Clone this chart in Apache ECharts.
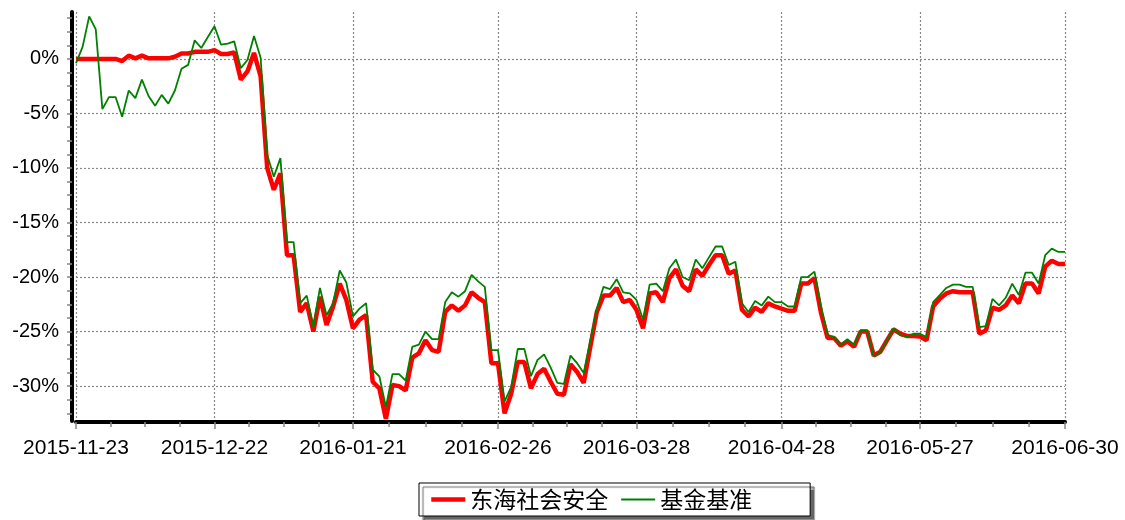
<!DOCTYPE html>
<html>
<head>
<meta charset="utf-8">
<script src="https://cdn.jsdelivr.net/npm/echarts@6/dist/echarts.min.js"></script>
<style>
html,body{margin:0;padding:0;background:#fff;}
#chart{width:1125px;height:520px;}
</style>
</head>
<body>
<div id="chart"></div>
<script>
const dates = [
'2015-11-23','2015-11-24','2015-11-25','2015-11-26','2015-11-27','2015-11-30',
'2015-12-01','2015-12-02','2015-12-03','2015-12-04',
'2015-12-07','2015-12-08','2015-12-09','2015-12-10','2015-12-11',
'2015-12-14','2015-12-15','2015-12-16','2015-12-17','2015-12-18',
'2015-12-21','2015-12-22','2015-12-23','2015-12-24','2015-12-25',
'2015-12-28','2015-12-29','2015-12-30','2015-12-31',
'2016-01-04','2016-01-05','2016-01-06','2016-01-07','2016-01-08',
'2016-01-11','2016-01-12','2016-01-13','2016-01-14','2016-01-15',
'2016-01-18','2016-01-19','2016-01-20','2016-01-21','2016-01-22',
'2016-01-25','2016-01-26','2016-01-27','2016-01-28','2016-01-29',
'2016-02-01','2016-02-02','2016-02-03','2016-02-04','2016-02-05','2016-02-06',
'2016-02-15','2016-02-16','2016-02-17','2016-02-18','2016-02-19',
'2016-02-22','2016-02-23','2016-02-24','2016-02-25','2016-02-26',
'2016-02-29','2016-03-01','2016-03-02','2016-03-03','2016-03-04',
'2016-03-07','2016-03-08','2016-03-09','2016-03-10','2016-03-11',
'2016-03-14','2016-03-15','2016-03-16','2016-03-17','2016-03-18',
'2016-03-21','2016-03-22','2016-03-23','2016-03-24','2016-03-25',
'2016-03-28','2016-03-29','2016-03-30','2016-03-31','2016-04-01',
'2016-04-05','2016-04-06','2016-04-07','2016-04-08',
'2016-04-11','2016-04-12','2016-04-13','2016-04-14','2016-04-15',
'2016-04-18','2016-04-19','2016-04-20','2016-04-21','2016-04-22',
'2016-04-25','2016-04-26','2016-04-27','2016-04-28','2016-04-29','2016-04-30',
'2016-05-03','2016-05-04','2016-05-05','2016-05-06',
'2016-05-09','2016-05-10','2016-05-11','2016-05-12','2016-05-13',
'2016-05-16','2016-05-17','2016-05-18','2016-05-19','2016-05-20',
'2016-05-23','2016-05-24','2016-05-25','2016-05-26','2016-05-27',
'2016-05-30','2016-05-31','2016-06-01','2016-06-02','2016-06-03',
'2016-06-06','2016-06-07','2016-06-08',
'2016-06-13','2016-06-14','2016-06-15','2016-06-16','2016-06-17',
'2016-06-20','2016-06-21','2016-06-22','2016-06-23','2016-06-24',
'2016-06-27','2016-06-28','2016-06-29','2016-06-30'
];

const fundName = '东海社会安全';
const benchName = '基金基准';

const fundValues = [
0,0,0,0,0,0,0,-0.2,0.3,0.05,
0.3,0.05,0.05,0.05,0.05,0.2,0.5,0.5,0.65,0.65,
0.65,0.8,0.45,0.45,0.6,-1.9,-1.15,0.55,-1.6,-10.0,
-12.0,-10.5,-18.0,-18.0,-23.2,-22.4,-25.0,-21.8,-24.4,-22.7,
-20.6,-22.1,-24.7,-23.9,-23.5,-29.6,-30.2,-33.0,-29.9,-30.0,
-30.4,-27.4,-27.0,-25.8,-26.7,-26.85,-23.2,-22.6,-23.1,-22.6,
-21.4,-21.9,-22.3,-27.9,-27.9,-32.5,-30.7,-27.8,-27.8,-30.2,
-28.9,-28.4,-29.6,-30.7,-30.8,-28.0,-28.7,-29.7,-26.4,-23.2,
-21.7,-21.7,-21.0,-22.3,-22.1,-23.0,-24.7,-21.5,-21.4,-22.3,
-20.1,-19.3,-20.8,-21.3,-19.3,-19.9,-18.9,-18.0,-18.0,-19.7,
-19.4,-23.0,-23.6,-22.8,-23.2,-22.4,-22.7,-22.9,-23.1,-23.1,
-20.6,-20.6,-20.1,-23.3,-25.6,-25.6,-26.3,-25.9,-26.4,-25.0,
-25.0,-27.2,-26.85,-25.8,-24.8,-25.2,-25.4,-25.4,-25.45,-25.8,
-22.7,-22.0,-21.5,-21.3,-21.4,-21.4,-21.4,-25.2,-24.9,-22.8,
-23.0,-22.6,-21.7,-22.4,-20.6,-20.6,-21.5,-19.05,-18.5,-18.8,
-18.8
];

const benchValues = [
-0.4,1.1,3.9,2.7,-4.6,-3.5,-3.5,-5.3,-2.9,-3.6,
-1.9,-3.4,-4.3,-3.3,-4.1,-2.9,-0.9,-0.55,1.7,1.0,
2.0,3.0,1.3,1.4,1.6,-0.85,-0.1,2.1,0.1,-8.8,
-10.8,-9.1,-16.8,-16.8,-22.4,-21.7,-24.6,-21.0,-23.5,-22.4,
-19.4,-20.5,-23.6,-22.9,-22.4,-28.5,-29.1,-31.9,-28.9,-28.9,
-29.5,-26.4,-26.2,-25.0,-25.7,-25.7,-22.3,-21.4,-21.8,-21.3,
-19.8,-20.4,-20.9,-26.7,-26.7,-31.4,-30.1,-26.6,-26.6,-29.1,
-27.6,-27.1,-28.3,-29.7,-29.8,-27.2,-27.9,-28.8,-25.85,-22.9,
-20.9,-21.1,-20.2,-21.4,-21.5,-22.1,-23.9,-20.7,-20.6,-21.3,
-19.2,-18.4,-20.0,-20.3,-18.4,-19.2,-18.2,-17.2,-17.2,-18.9,
-18.6,-22.4,-23.2,-22.2,-22.6,-21.8,-22.3,-22.3,-22.7,-22.7,
-20.0,-20.0,-19.5,-22.7,-25.3,-25.5,-26.2,-25.7,-26.2,-24.9,
-24.9,-27.3,-26.85,-25.8,-24.7,-25.3,-25.5,-25.2,-25.2,-25.5,
-22.3,-21.65,-21.0,-20.7,-20.7,-20.9,-20.9,-24.6,-24.5,-22.0,
-22.6,-21.9,-20.6,-21.65,-19.6,-19.6,-20.6,-18.0,-17.4,-17.7,
-17.7
];

const xTickLabels = ['2015-11-23','2015-12-22','2016-01-21','2016-02-26','2016-03-28','2016-04-28','2016-05-27','2016-06-30'];
const yTickValues = [-30,-25,-20,-15,-10,-5,0];

const Y_MIN = -33.2, Y_MAX = 4.3;

const xTickIdx = xTickLabels.map(d => dates.indexOf(d));
const xMinorIdx = [];
for (let k = 0; k < xTickIdx.length - 1; k++) {
  const a = xTickIdx[k], b = xTickIdx[k + 1];
  for (let q = 1; q < 4; q++) xMinorIdx.push(a + (b - a) * q / 4);
}
const yMinor = [];
for (let v = -32.5; v <= Y_MAX; v += 1.25) yMinor.push(Math.round(v * 100) / 100);

const fundData = fundValues.map((v, i) => [i, v]);
const benchData = benchValues.map((v, i) => [i, v]);

const gridLine = { show: true, lineStyle: { type: [2, 2], color: '#888', width: 1.2 } };
const tickStyle = { color: '#888', width: 1.5 };
const fontLatin = "'Liberation Sans', Arial, sans-serif";

const chart = echarts.init(document.getElementById('chart'), null, { renderer: 'canvas' });
chart.setOption({
  animation: false,
  backgroundColor: '#fff',
  grid: { left: 76, right: 60, top: 12, bottom: 99, containLabel: false },
  xAxis: [{
    type: 'value', min: 0, max: dates.length - 1, position: 'bottom', offset: 1,
    axisLine: { show: true, onZero: false, lineStyle: { color: '#000', width: 4 } },
    axisTick: { show: true, customValues: xTickIdx, length: 7, lineStyle: tickStyle },
    axisLabel: { customValues: xTickIdx, formatter: v => dates[v], fontSize: 21, color: '#000', margin: 16, fontFamily: fontLatin },
    splitLine: gridLine
  }, {
    type: 'value', min: 0, max: dates.length - 1, position: 'bottom', offset: 1,
    axisLine: { show: false, onZero: false },
    axisTick: { show: true, customValues: xMinorIdx, length: 5, lineStyle: tickStyle },
    axisLabel: { show: false },
    splitLine: { show: false }
  }],
  yAxis: [{
    type: 'value', min: Y_MIN, max: Y_MAX, position: 'left', offset: 4,
    axisLine: { show: true, onZero: false, lineStyle: { color: '#000', width: 4 } },
    axisTick: { show: true, customValues: yTickValues, length: 5, lineStyle: tickStyle },
    axisLabel: { customValues: yTickValues, formatter: v => v + '%', fontSize: 20, color: '#000', margin: 13, fontFamily: fontLatin },
    splitLine: gridLine
  }, {
    type: 'value', min: Y_MIN, max: Y_MAX, position: 'left', offset: 4,
    axisLine: { show: false, onZero: false },
    axisTick: { show: true, customValues: yMinor, length: 5, lineStyle: tickStyle },
    axisLabel: { show: false },
    splitLine: { show: false }
  }],
  legend: {
    data: [
      { name: fundName, lineStyle: { width: 4.5, color: '#ff0000' } },
      { name: benchName, lineStyle: { width: 1.8, color: '#008000' } }
    ],
    left: 419, top: 483,
    orient: 'horizontal',
    padding: [5, 58, 5, 10],
    itemWidth: 34, itemHeight: 14, itemGap: 12,
    borderColor: '#000', borderWidth: 1, backgroundColor: '#fff',
    shadowColor: '#666', shadowBlur: 1, shadowOffsetX: 4, shadowOffsetY: 4,
    itemStyle: { opacity: 0 },
    textStyle: { fontSize: 23, color: '#000', fontFamily: "'Noto Sans CJK SC', sans-serif" }
  },
  series: [{
    name: fundName, type: 'line', data: fundData, xAxisIndex: 0, yAxisIndex: 0,
    symbol: 'none', smooth: false,
    lineStyle: { color: '#ff0000', width: 4.5 }, itemStyle: { color: '#ff0000' }
  }, {
    name: benchName, type: 'line', data: benchData, xAxisIndex: 0, yAxisIndex: 0,
    symbol: 'none', smooth: false,
    lineStyle: { color: '#008000', width: 1.8 }, itemStyle: { color: '#008000' }
  }]
});
</script>
</body>
</html>
